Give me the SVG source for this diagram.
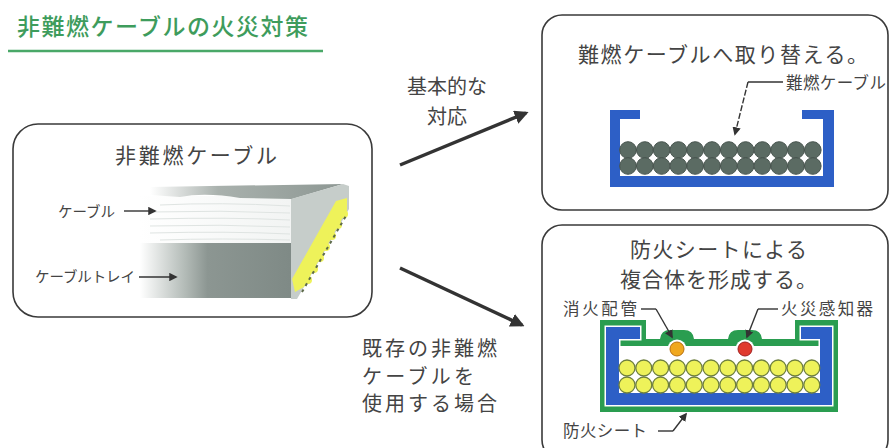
<svg xmlns="http://www.w3.org/2000/svg" width="890" height="448" viewBox="0 0 890 448">
  <style>
    .box { fill: #fff; stroke: #3a3a3a; stroke-width: 1.6; }
    .txt { font-family: "Noto Sans CJK JP", "Noto Sans", sans-serif; fill: #444; }
    .ttl { font-size: 21px; }
    .lbl { font-size: 16.5px; }
    .arrow { stroke: #333; stroke-width: 3.5; fill: none; }
    .lead { stroke: #333; stroke-width: 1.4; fill: none; }
    .blue { fill: #2d5fc6; }
    .dark { fill: #5b6b63; stroke: #46534d; stroke-width: 1; }
    .yel { fill: #eef25a; stroke: #6e7f3e; stroke-width: 1.3; }
  </style>
  <defs>
    <marker id="bigHead" viewBox="0 0 10 10" refX="8" refY="5" markerWidth="4" markerHeight="4" orient="auto" markerUnits="strokeWidth">
      <path d="M0,0 L10,5 L0,10 Z" fill="#333"/>
    </marker>
    <marker id="smallHead" viewBox="0 0 10 10" refX="8" refY="5" markerWidth="6" markerHeight="6" orient="auto" markerUnits="strokeWidth">
      <path d="M0,0 L10,5 L0,10 Z" fill="#333"/>
    </marker>
    <linearGradient id="trayFront" x1="140" y1="0" x2="290" y2="0" gradientUnits="userSpaceOnUse">
      <stop offset="0" stop-color="#ffffff"/>
      <stop offset="0.3" stop-color="#b3bbb7"/>
      <stop offset="0.45" stop-color="#8c9692"/>
      <stop offset="1" stop-color="#7f8a86"/>
    </linearGradient>
    <linearGradient id="trayTop" x1="150" y1="0" x2="345" y2="0" gradientUnits="userSpaceOnUse">
      <stop offset="0" stop-color="#ffffff"/>
      <stop offset="0.35" stop-color="#a9b1ad"/>
      <stop offset="1" stop-color="#8d9793"/>
    </linearGradient>
    <linearGradient id="cableFront" x1="140" y1="0" x2="290" y2="0" gradientUnits="userSpaceOnUse">
      <stop offset="0" stop-color="#ffffff"/>
      <stop offset="1" stop-color="#f2f4f3"/>
    </linearGradient>
    <g id="darkRow">
      <circle class="dark" cx="628" cy="0" r="8.3"/>
      <circle class="dark" cx="644.8" cy="0" r="8.3"/>
      <circle class="dark" cx="661.6" cy="0" r="8.3"/>
      <circle class="dark" cx="678.4" cy="0" r="8.3"/>
      <circle class="dark" cx="695.2" cy="0" r="8.3"/>
      <circle class="dark" cx="712" cy="0" r="8.3"/>
      <circle class="dark" cx="728.8" cy="0" r="8.3"/>
      <circle class="dark" cx="745.6" cy="0" r="8.3"/>
      <circle class="dark" cx="762.4" cy="0" r="8.3"/>
      <circle class="dark" cx="779.2" cy="0" r="8.3"/>
      <circle class="dark" cx="796" cy="0" r="8.3"/>
      <circle class="dark" cx="812.8" cy="0" r="8.3"/>
    </g>
    <g id="yelRow">
      <circle class="yel" cx="627" cy="0" r="8"/>
      <circle class="yel" cx="643.8" cy="0" r="8"/>
      <circle class="yel" cx="660.6" cy="0" r="8"/>
      <circle class="yel" cx="677.4" cy="0" r="8"/>
      <circle class="yel" cx="694.2" cy="0" r="8"/>
      <circle class="yel" cx="711" cy="0" r="8"/>
      <circle class="yel" cx="727.8" cy="0" r="8"/>
      <circle class="yel" cx="744.6" cy="0" r="8"/>
      <circle class="yel" cx="761.4" cy="0" r="8"/>
      <circle class="yel" cx="778.2" cy="0" r="8"/>
      <circle class="yel" cx="795" cy="0" r="8"/>
      <circle class="yel" cx="811.8" cy="0" r="8"/>
    </g>
  </defs>

  <rect width="890" height="448" fill="#fff"/>

  <!-- heading -->
  <g id="heading">
    <text x="17" y="35" font-family="Noto Sans CJK JP, Noto Sans, sans-serif" font-size="23" font-weight="500" fill="#3e9c5c" textLength="291" lengthAdjust="spacing">非難燃ケーブルの火災対策</text>
    <line x1="8" y1="51" x2="323" y2="51" stroke="#4aa868" stroke-width="2.5"/>
  </g>

  <!-- non-flame-retardant cable in tray -->
  <g id="node-existing">
    <rect class="box" x="13" y="124" width="359" height="193" rx="25"/>
    <text class="txt ttl" x="115" y="163" textLength="162" lengthAdjust="spacing">非難燃ケーブル</text>
    <!-- cable front face -->
    <rect x="140" y="196" width="151" height="48" fill="url(#cableFront)"/>
    <g stroke="#dfe4e2" stroke-width="1" fill="none">
      <path d="M160,205 Q220,202 290,206"/>
      <path d="M150,212 Q220,210 290,213"/>
      <path d="M150,219 Q230,217 290,220"/>
      <path d="M150,226 Q220,224 290,227"/>
      <path d="M150,233 Q230,231 290,234"/>
      <path d="M160,240 Q220,238 290,240"/>
    </g>
    <!-- top face -->
    <path d="M150,187 L343,184 L292,199 L240,198 Q205,192 180,197 L150,195 Z" fill="url(#trayTop)"/>
    <!-- tray front wall -->
    <rect x="140" y="243" width="151" height="55" fill="url(#trayFront)"/>
    <!-- cut end -->
    <path d="M291,199 L343,184 L349,186 L349,209 L297,299 L291,299 Z" fill="#c6cdca"/>
    <path d="M292,279 L336,201 L347,198 L347,210 L304,287 L295,292 Z" fill="#eef25a"/>
    <g fill="#eef25a">
      <circle cx="344" cy="214" r="4"/>
      <circle cx="338" cy="225" r="4"/>
      <circle cx="332" cy="236" r="4"/>
      <circle cx="326" cy="247" r="4"/>
      <circle cx="320" cy="258" r="4"/>
      <circle cx="314" cy="269" r="4"/>
      <circle cx="308" cy="280" r="4"/>
    </g>
    <path d="M302,292 L347,214" stroke="#5d6a4a" stroke-width="2" fill="none" stroke-dasharray="3 4"/>
    <!-- labels -->
    <text class="txt" x="58" y="217" font-size="14.5" textLength="57" lengthAdjust="spacing">ケーブル</text>
    <line class="lead" x1="124" y1="211" x2="155" y2="211" marker-end="url(#smallHead)"/>
    <text class="txt" x="35" y="282" font-size="14.5" textLength="100" lengthAdjust="spacing">ケーブルトレイ</text>
    <line class="lead" x1="139" y1="277" x2="176" y2="277" marker-end="url(#smallHead)"/>
  </g>

  <!-- replacement with flame-retardant cable -->
  <g id="node-replace">
    <rect class="box" x="542" y="15" width="346" height="195" rx="20"/>
    <text class="txt ttl" x="578" y="62" textLength="290" lengthAdjust="spacing">難燃ケーブルへ取り替える。</text>
    <text class="txt lbl" x="786" y="89" textLength="100" lengthAdjust="spacing">難燃ケーブル</text>
    <path class="blue" d="M610,110 H640 V119 H620 V176 H823 V119 H802 V110 H834 V187 H610 Z"/>
    <use href="#darkRow" y="150"/>
    <use href="#darkRow" y="166"/>
    <line class="lead" x1="783" y1="82" x2="748" y2="82"/>
    <line class="lead" x1="748" y1="82" x2="735" y2="134" stroke-dasharray="6 2" marker-end="url(#smallHead)"/>
  </g>

  <!-- composite wrapped in fire-protection sheet -->
  <g id="node-firesheet">
    <rect class="box" x="542" y="225" width="346" height="235" rx="20"/>
    <text class="txt ttl" x="630" y="257" textLength="177" lengthAdjust="spacing">防火シートによる</text>
    <text class="txt ttl" x="620" y="287" textLength="197" lengthAdjust="spacing">複合体を形成する。</text>
    <!-- sheet outline -->
    <path d="M600,320 H646 V339 H660 Q661,330 670,330 H684 Q693,330 694,339 H728 Q729,330 738,330 H752 Q761,330 762,339 H795 V320 H838 V412 H600 Z" fill="#2a9d50"/>
    <rect x="619" y="346" width="201" height="47" fill="#fff"/>
    <!-- tray -->
    <path class="blue" d="M606,327 H640 V339 H619 V393 H820 V339 H801 V327 H832 V405 H606 Z" stroke="#fff" stroke-width="3" stroke-linejoin="miter"/>
    <path class="blue" d="M606,327 H640 V339 H619 V393 H820 V339 H801 V327 H832 V405 H606 Z"/>
    <!-- pipe and detector in pockets -->
    <circle cx="677" cy="349" r="9.5" fill="#fff"/>
    <circle cx="677" cy="349" r="7" fill="#f0a81e" stroke="#b87010" stroke-width="1"/>
    <circle cx="745" cy="349" r="9.5" fill="#fff"/>
    <circle cx="745" cy="349" r="7" fill="#e03a2e" stroke="#a02020" stroke-width="1"/>
    <use href="#yelRow" y="368"/>
    <use href="#yelRow" y="385"/>
    <!-- part labels -->
    <text class="txt lbl" x="563" y="315" textLength="74" lengthAdjust="spacing">消火配管</text>
    <line class="lead" x1="641" y1="309" x2="656" y2="309"/>
    <line class="lead" x1="656" y1="309" x2="672" y2="337" marker-end="url(#smallHead)"/>
    <text class="txt lbl" x="781" y="315" textLength="92" lengthAdjust="spacing">火災感知器</text>
    <line class="lead" x1="778" y1="309" x2="758" y2="309"/>
    <line class="lead" x1="758" y1="309" x2="747" y2="337" marker-end="url(#smallHead)"/>
    <text class="txt lbl" x="563" y="437" textLength="84" lengthAdjust="spacing">防火シート</text>
    <line class="lead" x1="658" y1="431" x2="673" y2="431"/>
    <line class="lead" x1="673" y1="431" x2="686" y2="414" marker-end="url(#smallHead)"/>
  </g>

  <!-- connectors -->
  <g id="connectors">
    <line class="arrow" x1="400" y1="165" x2="526" y2="113" marker-end="url(#bigHead)"/>
    <line class="arrow" x1="400" y1="268" x2="522" y2="325" marker-end="url(#bigHead)"/>
  </g>

  <!-- connector labels -->
  <g id="connector-labels">
    <text class="txt" x="447" y="94" font-size="20" text-anchor="middle">基本的な</text>
    <text class="txt" x="447" y="124" font-size="20" text-anchor="middle">対応</text>
    <text class="txt" x="362" y="356" font-size="20" textLength="135" lengthAdjust="spacing">既存の非難燃</text>
    <text class="txt" x="362" y="384" font-size="20" textLength="112" lengthAdjust="spacing">ケーブルを</text>
    <text class="txt" x="362" y="411" font-size="20" textLength="135" lengthAdjust="spacing">使用する場合</text>
  </g>
</svg>
